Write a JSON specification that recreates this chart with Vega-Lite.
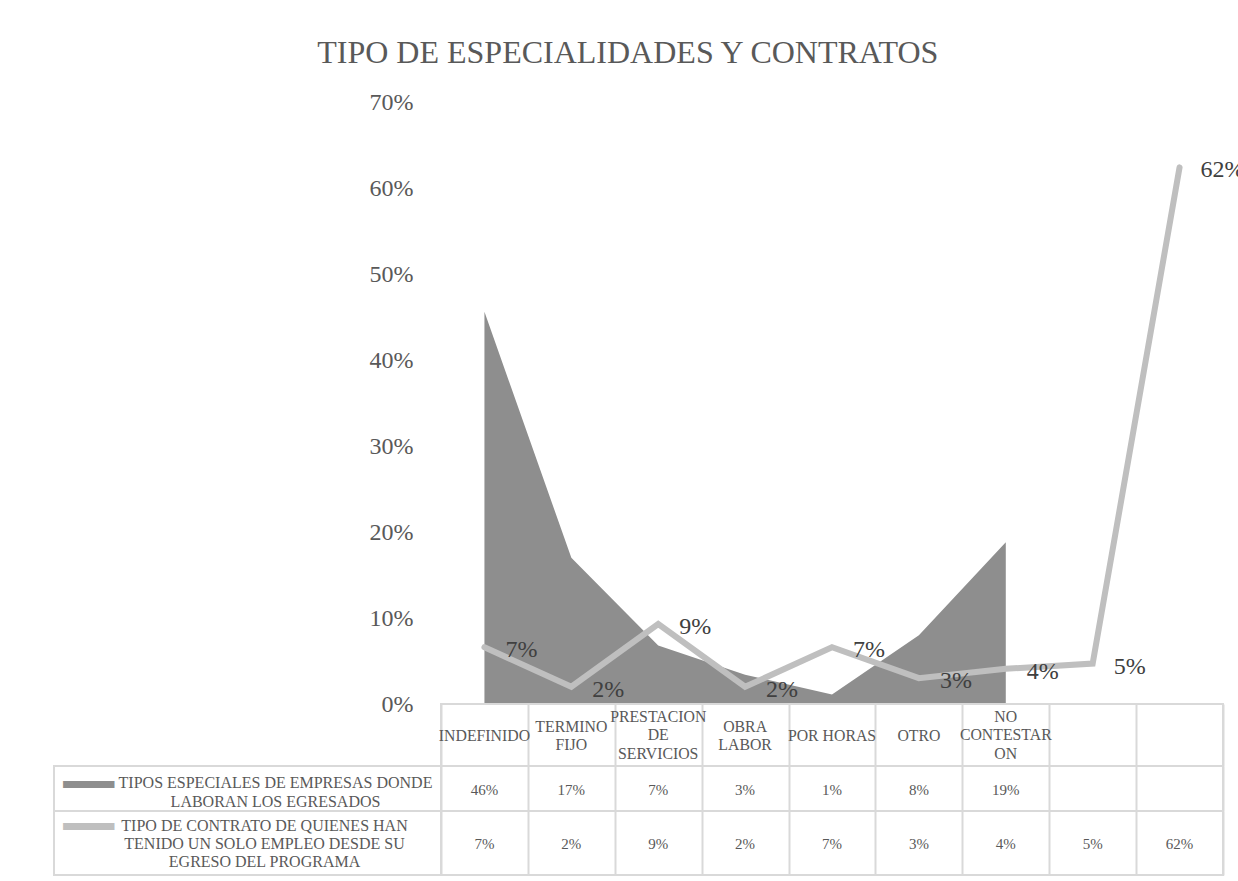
{
  "$schema": "https://vega.github.io/schema/vega-lite/v6.json",
  "padding": {"left": 53, "top": 36, "right": 0, "bottom": 0},
  "title": {"text": "TIPO DE ESPECIALIDADES Y CONTRATOS", "font": "Liberation Serif", "fontSize": 32, "fontWeight": "normal", "color": "#595959", "anchor": "middle", "baseline": "alphabetic", "offset": -4.5, "dx": -21},
  "datasets": {
    "d": [
      {"id": "c1", "label": "INDEFINIDO", "area": 0.456, "line": 0.066},
      {"id": "c2", "label": "TERMINO\nFIJO", "area": 0.17, "line": 0.02},
      {"id": "c3", "label": "PRESTACION\nDE\nSERVICIOS", "area": 0.068, "line": 0.093},
      {"id": "c4", "label": "OBRA\nLABOR", "area": 0.034, "line": 0.02},
      {"id": "c5", "label": "POR HORAS", "area": 0.011, "line": 0.066},
      {"id": "c6", "label": "OTRO", "area": 0.08, "line": 0.03},
      {"id": "c7", "label": "NO\nCONTESTAR\nON", "area": 0.188, "line": 0.041},
      {"id": "c8", "label": "", "area": null, "line": 0.047},
      {"id": "c9", "label": "", "area": null, "line": 0.624}
    ],
    "s": [
      {"series": "area", "name": "TIPOS ESPECIALES DE EMPRESAS DONDE\nLABORAN LOS EGRESADOS"},
      {"series": "line", "name": "TIPO DE CONTRATO DE QUIENES HAN\nTENIDO UN SOLO EMPLEO DESDE SU\nEGRESO DEL PROGRAMA"}
    ]
  },
  "columns": 2,
  "spacing": 0,
  "bounds": "flush",
  "concat": [
    {
      "width": 387, "height": 602,
      "data": {"values": [{}]},
      "mark": {"type": "text", "text": ""},
      "encoding": {}
    },
    {
      "width": 782, "height": 602,
      "data": {"name": "d"},
      "layer": [
        {
          "transform": [{"filter": "datum.area != null"}],
          "mark": {"type": "area", "color": "#8e8e8e", "opacity": 1},
          "encoding": {
            "x": {"field": "id", "type": "nominal", "scale": {"type": "point", "domain": ["c1","c2","c3","c4","c5","c6","c7","c8","c9"], "padding": 0.5}, "axis": null},
            "y": {"field": "area", "type": "quantitative", "title": null, "scale": {"domain": [0, 0.7], "nice": false},
              "axis": {"values": [0, 0.1, 0.2, 0.3, 0.4, 0.5, 0.6, 0.7], "format": ".0%", "grid": false, "domain": false, "ticks": false, "tickSize": 0, "labelPadding": 28, "labelFont": "Liberation Serif", "labelFontSize": 24, "labelColor": "#595959", "labelFlush": false, "labelOverlap": false, "labelBound": false, "title": null}}
          }
        },
        {
          "transform": [{"filter": "datum.line != null"}],
          "mark": {"type": "line", "color": "#bfbfbf", "strokeWidth": 6, "strokeCap": "round", "strokeJoin": "miter"},
          "encoding": {
            "x": {"field": "id", "type": "nominal", "scale": {"type": "point", "domain": ["c1","c2","c3","c4","c5","c6","c7","c8","c9"], "padding": 0.5}, "axis": null},
            "y": {"field": "line", "type": "quantitative", "title": null, "scale": {"domain": [0, 0.7], "nice": false}}
          }
        },
        {
          "transform": [{"filter": "datum.line != null"}],
          "mark": {"type": "text", "align": "left", "baseline": "middle", "dx": 21, "dy": 3, "font": "Liberation Serif", "fontSize": 24, "color": "#404040"},
          "encoding": {
            "x": {"field": "id", "type": "nominal", "scale": {"type": "point", "domain": ["c1","c2","c3","c4","c5","c6","c7","c8","c9"], "padding": 0.5}, "axis": null},
            "y": {"field": "line", "type": "quantitative", "title": null, "scale": {"domain": [0, 0.7], "nice": false}},
            "text": {"field": "line", "type": "quantitative", "format": ".0%"}
          }
        }
      ]
    },
    {
      "width": 387, "height": 62,
      "data": {"values": [{}]},
      "mark": {"type": "text", "text": ""},
      "encoding": {}
    },
    {
      "width": 782, "height": 62,
      "data": {"name": "d"},
      "view": {"stroke": "#d9d9d9", "strokeWidth": 2},
      "encoding": {
        "x": {"field": "id", "type": "nominal", "scale": {"type": "band", "domain": ["c1","c2","c3","c4","c5","c6","c7","c8","c9"], "paddingInner": 0, "paddingOuter": 0},
          "axis": {"labels": false, "ticks": false, "domain": false, "grid": true, "gridColor": "#d9d9d9", "gridWidth": 2, "tickBand": "extent", "title": null}},
        "text": {"field": "label", "type": "nominal"}
      },
      "layer": [
        {"transform": [{"filter": "length(split(datum.label, '\\n')) == 1"}],
         "mark": {"type": "text", "lineBreak": "\n", "lineHeight": 18.3, "font": "Liberation Serif", "fontSize": 15.8, "color": "#595959", "align": "center", "baseline": "middle", "dy": 1}},
        {"transform": [{"filter": "length(split(datum.label, '\\n')) == 2"}],
         "mark": {"type": "text", "lineBreak": "\n", "lineHeight": 18.3, "font": "Liberation Serif", "fontSize": 15.8, "color": "#595959", "align": "center", "baseline": "middle", "dy": -8.5}},
        {"transform": [{"filter": "length(split(datum.label, '\\n')) == 3"}],
         "mark": {"type": "text", "lineBreak": "\n", "lineHeight": 18.3, "font": "Liberation Serif", "fontSize": 15.8, "color": "#595959", "align": "center", "baseline": "middle", "dy": -18}}
      ]
    },
    {
      "width": 387, "height": 45,
      "data": {"name": "s"},
      "transform": [{"filter": "datum.series == 'area'"}],
      "view": {"stroke": "#d9d9d9", "strokeWidth": 2},
      "layer": [
        {"mark": {"type": "text", "text": "━━", "font": "DejaVu Sans Mono", "fontSize": 42, "color": "#8e8e8e", "align": "center", "baseline": "middle", "dx": -159, "dy": -2.5}, "encoding": {}},
        {"mark": {"type": "text", "lineBreak": "\n", "lineHeight": 19, "font": "Liberation Serif", "fontSize": 16, "color": "#595959", "align": "center", "baseline": "middle", "dx": 28, "dy": -5.5},
          "encoding": {"text": {"field": "name", "type": "nominal"}}}
      ]
    },
    {
      "width": 782, "height": 45,
      "data": {"name": "d"},
      "transform": [{"filter": "datum.area != null"}],
      "view": {"stroke": "#d9d9d9", "strokeWidth": 2},
      "mark": {"type": "text", "font": "Liberation Serif", "fontSize": 15, "color": "#595959", "align": "center", "baseline": "middle", "dy": 1.5},
      "encoding": {
        "x": {"field": "id", "type": "nominal", "scale": {"type": "band", "domain": ["c1","c2","c3","c4","c5","c6","c7","c8","c9"], "paddingInner": 0, "paddingOuter": 0},
          "axis": {"labels": false, "ticks": false, "domain": false, "grid": true, "gridColor": "#d9d9d9", "gridWidth": 2, "tickBand": "extent", "title": null}},
        "text": {"field": "area", "type": "quantitative", "format": ".0%"}
      }
    },
    {
      "width": 387, "height": 64,
      "data": {"name": "s"},
      "transform": [{"filter": "datum.series == 'line'"}],
      "view": {"stroke": "#d9d9d9", "strokeWidth": 2},
      "layer": [
        {"mark": {"type": "text", "text": "━━", "font": "DejaVu Sans Mono", "fontSize": 42, "color": "#bfbfbf", "align": "center", "baseline": "middle", "dx": -159, "dy": -15}, "encoding": {}},
        {"mark": {"type": "text", "lineBreak": "\n", "lineHeight": 18.3, "font": "Liberation Serif", "fontSize": 16, "color": "#595959", "align": "center", "baseline": "middle", "dx": 17, "dy": -17.5},
          "encoding": {"text": {"field": "name", "type": "nominal"}}}
      ]
    },
    {
      "width": 782, "height": 64,
      "data": {"name": "d"},
      "transform": [{"filter": "datum.line != null"}],
      "view": {"stroke": "#d9d9d9", "strokeWidth": 2},
      "mark": {"type": "text", "font": "Liberation Serif", "fontSize": 15, "color": "#595959", "align": "center", "baseline": "middle", "dy": 1},
      "encoding": {
        "x": {"field": "id", "type": "nominal", "scale": {"type": "band", "domain": ["c1","c2","c3","c4","c5","c6","c7","c8","c9"], "paddingInner": 0, "paddingOuter": 0},
          "axis": {"labels": false, "ticks": false, "domain": false, "grid": true, "gridColor": "#d9d9d9", "gridWidth": 2, "tickBand": "extent", "title": null}},
        "text": {"field": "line", "type": "quantitative", "format": ".0%"}
      }
    }
  ],
  "config": {"view": {"stroke": null}, "font": "Liberation Serif"}
}
